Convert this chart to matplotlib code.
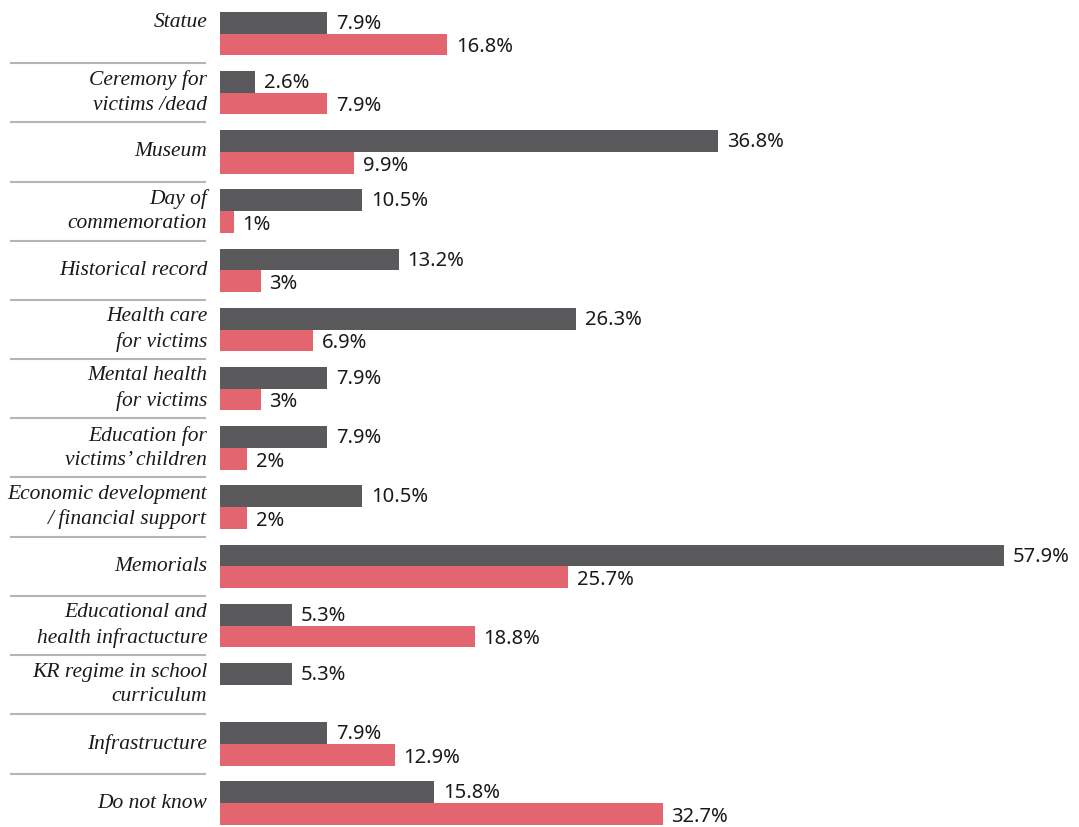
import matplotlib
matplotlib.use("Agg")
import matplotlib.pyplot as plt
import numpy as np

DARK = "#5a5a5c"; RED = "#e2656f"; SEP = "#b4b4b4"

categories = ["Statue", "Ceremony for\nvictims /dead", "Museum", "Day of\ncommemoration",
              "Historical record", "Health care\nfor victims", "Mental health\nfor victims",
              "Education for\nvictims\u2019 children", "Economic development\n/ financial support",
              "Memorials", "Educational and\nhealth infractucture", "KR regime in school\ncurriculum",
              "Infrastructure", "Do not know"]
dark_vals = [7.9, 2.6, 36.8, 10.5, 13.2, 26.3, 7.9, 7.9, 10.5, 57.9, 5.3, 5.3, 7.9, 15.8]
red_vals = [16.8, 7.9, 9.9, 1, 3, 6.9, 3, 2, 2, 25.7, 18.8, np.nan, 12.9, 32.7]

W, H = 1079, 827
fig = plt.figure(figsize=(W/100, H/100), dpi=100, facecolor="white")
ax = fig.add_axes([220/W, 0, (W-220)/W, 1])
pitch = 59.2
ax.set_xlim(0, (W-220)/13.54)
ax.set_ylim((H-33.5)/pitch, -33.5/pitch)
ax.axis("off")

y = np.arange(len(categories))
h = 0.365
ax.barh(y - h/2, dark_vals, height=h, color=DARK)
ax.barh(y + h/2, np.nan_to_num(red_vals), height=h, color=RED)

pad = 0.65
for i in range(len(categories)):
    ax.text(dark_vals[i] + pad, y[i] - h/2 + 0.02, "%g%%" % dark_vals[i], ha="left", va="center",
            fontsize=14.5, family="Noto Sans", color="#1a1a1a")
    if not np.isnan(red_vals[i]):
        ax.text(red_vals[i] + pad, y[i] + h/2 + 0.05, "%g%%" % red_vals[i], ha="left", va="center",
                fontsize=14.5, family="Noto Sans", color="#1a1a1a")
    ly = y[i] - h/2 if i == 0 else y[i]   # top label sits level with its first bar
    ax.text(-0.95, ly, categories[i], ha="right", va="center", fontsize=15.5, style="italic",
            family="Liberation Serif", color="#1a1a1a", linespacing=1.38)

# separators between groups
ax.hlines(y[:-1] + 0.5, -15.5, -1.0, color=SEP, lw=1.5, clip_on=False)

plt.savefig("out.png", dpi=100, facecolor="white")
